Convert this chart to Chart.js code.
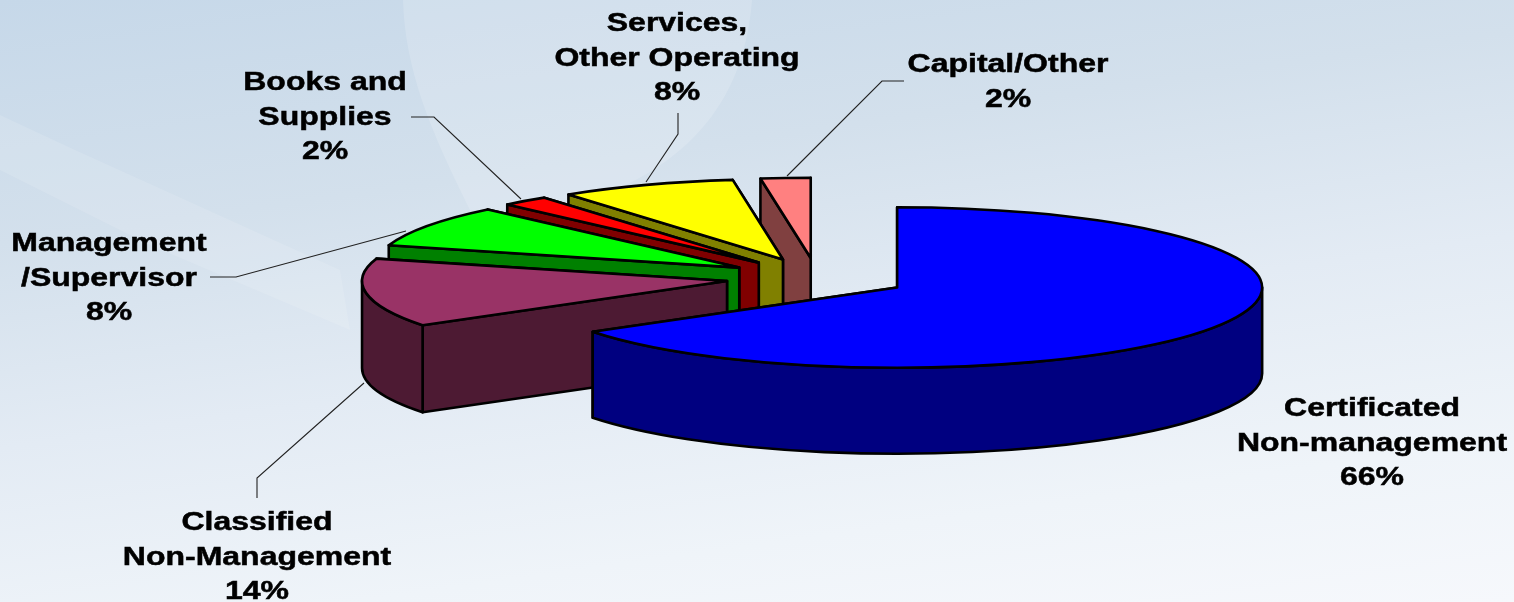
<!DOCTYPE html>
<html>
<head>
<meta charset="utf-8">
<title>Expenditures by category</title>
<script src="https://cdn.jsdelivr.net/npm/chart.js@4/dist/chart.umd.min.js"></script>
<style>
  html, body { margin: 0; padding: 0; width: 1514px; height: 602px; overflow: hidden; }
  body { background: linear-gradient(172deg, #c6d8e9 0%, #d3e0ec 30%, #e3ebf4 55%, #eff4f9 80%, #f6f8fc 100%); }
  #wrap { position: relative; width: 1514px; height: 602px; }
</style>
</head>
<body>
<div id="wrap"><canvas id="pie3d"></canvas></div>
<script>
// slices run clockwise from 12 o'clock
const categories = ["Certificated\nNon-management", "Classified\nNon-Management", "Management\n/Supervisor", "Books and\nSupplies", "Services,\nOther Operating", "Capital/Other"];
const shares = [65.7, 13.8, 8.4, 2.1, 7.8, 2.2];
const topColors = ["#0000ff", "#993366", "#00ff00", "#ff0000", "#ffff00", "#ff8080"];
const sideColors = ["#000080", "#4d1a33", "#008000", "#800000", "#808000", "#804040"];

// label placement: centre x, first baseline
const labelPos = [[1372, 416], [257, 530], [109, 251], [325, 90], [677, 31], [1008, 72]];
const LINE_H = 34.5;
const leaders = [
  null,
  [[257, 498], [257, 478], [364, 383]],
  [[210, 277], [236, 277], [406, 231]],
  [[411, 117], [434, 117], [521, 199]],
  [[678, 113], [678, 134], [646, 182]],
  [[904, 81], [882, 81], [787, 176]]
];

const SQUASH = 0.22;   // ellipse height / width
const wallDepth = [86, 87, 86, 86, 86, 96];
const TEXT_STRETCH = 1.23;

function drawSlice(ctx, arc, i) {
  const R = arc.outerRadius, ry = R * SQUASH, depth = wallDepth[i];
  const a0 = arc.startAngle, a1 = arc.endAngle, mid = (a0 + a1) / 2;
  const ex = arc.options.offset;
  const cx = arc.x + Math.cos(mid) * ex;
  const cy = arc.y + Math.sin(mid) * ex * SQUASH;
  const px = a => cx + Math.cos(a) * R;
  const py = a => cy + Math.sin(a) * ry;

  ctx.lineWidth = 2.6;
  ctx.lineJoin = "round";
  ctx.strokeStyle = "#000";
  ctx.fillStyle = sideColors[i];

  // cut faces
  [a1, a0].forEach(a => {
    ctx.beginPath();
    ctx.moveTo(cx, cy);
    ctx.lineTo(px(a), py(a));
    ctx.lineTo(px(a), py(a) + depth);
    ctx.lineTo(cx, cy + depth);
    ctx.closePath();
    ctx.fill();
    ctx.stroke();
  });

  // outer wall, front half only
  const w0 = Math.max(a0, 0), w1 = Math.min(a1, Math.PI);
  if (w1 > w0) {
    ctx.beginPath();
    ctx.ellipse(cx, cy, R, ry, 0, w0, w1);
    ctx.lineTo(px(w1), py(w1) + depth);
    ctx.ellipse(cx, cy + depth, R, ry, 0, w1, w0, true);
    ctx.closePath();
    ctx.fill();
    ctx.stroke();
  }

  // top face
  ctx.fillStyle = arc.options.backgroundColor;
  ctx.beginPath();
  ctx.moveTo(cx, cy);
  ctx.ellipse(cx, cy, R, ry, 0, a0, a1);
  ctx.closePath();
  ctx.fill();
  ctx.stroke();
}

const pie3dPlugin = {
  id: "pie3d",
  beforeDraw(chart) {
    // faint banknote and clip behind the pie
    const ctx = chart.ctx;
    ctx.save();
    ctx.fillStyle = "rgba(255,255,255,0.16)";
    ctx.beginPath();
    ctx.moveTo(403, 0);
    ctx.lineTo(752, 0);
    ctx.bezierCurveTo(745, 90, 700, 170, 560, 210);
    ctx.lineTo(470, 210);
    ctx.bezierCurveTo(430, 130, 405, 70, 403, 0);
    ctx.fill();
    ctx.fillStyle = "rgba(255,255,255,0.12)";
    ctx.beginPath();
    ctx.moveTo(0, 115);
    ctx.lineTo(75, 150);
    ctx.lineTo(340, 270);
    ctx.lineTo(350, 330);
    ctx.lineTo(150, 245);
    ctx.lineTo(0, 170);
    ctx.fill();
    ctx.restore();
  },
  beforeDatasetsDraw(chart) {
    const ctx = chart.ctx;
    const arcs = chart.getDatasetMeta(0).data;
    ctx.save();
    // back to front, the first slice sits nearest the viewer
    for (let i = arcs.length - 1; i >= 0; i--) drawSlice(ctx, arcs[i], i);
    ctx.restore();
    return false;
  },
  afterDraw(chart) {
    const ctx = chart.ctx;
    ctx.save();
    ctx.strokeStyle = "#222";
    ctx.lineWidth = 1.1;
    leaders.forEach(pts => {
      if (!pts) return;
      ctx.beginPath();
      pts.forEach((p, k) => k ? ctx.lineTo(p[0], p[1]) : ctx.moveTo(p[0], p[1]));
      ctx.stroke();
    });
    ctx.fillStyle = "#000";
    ctx.strokeStyle = "#000";
    ctx.lineWidth = 0.5;
    ctx.font = "bold 26px 'Liberation Sans'";
    ctx.textAlign = "center";
    categories.forEach((name, i) => {
      const lines = name.split("\n").concat(Math.round(shares[i]) + "%");
      lines.forEach((line, k) => {
        ctx.save();
        ctx.translate(labelPos[i][0], labelPos[i][1] + k * LINE_H);
        ctx.scale(TEXT_STRETCH, 1);
        ctx.fillText(line, 0, 0);
        ctx.strokeText(line, 0, 0);
        ctx.restore();
      });
    });
    ctx.restore();
  }
};

new Chart(document.getElementById("pie3d"), {
  type: "pie",
  data: {
    labels: categories,
    datasets: [{ data: shares, backgroundColor: topColors, borderColor: "#000", borderWidth: 2, offset: 91 }]
  },
  options: {
    responsive: true,
    maintainAspectRatio: false,
    animation: false,
    radius: 365,
    layout: { padding: { left: 120, bottom: 46 } },
    plugins: { legend: { display: false }, tooltip: { enabled: false } }
  },
  plugins: [pie3dPlugin]
});
</script>
</body>
</html>
